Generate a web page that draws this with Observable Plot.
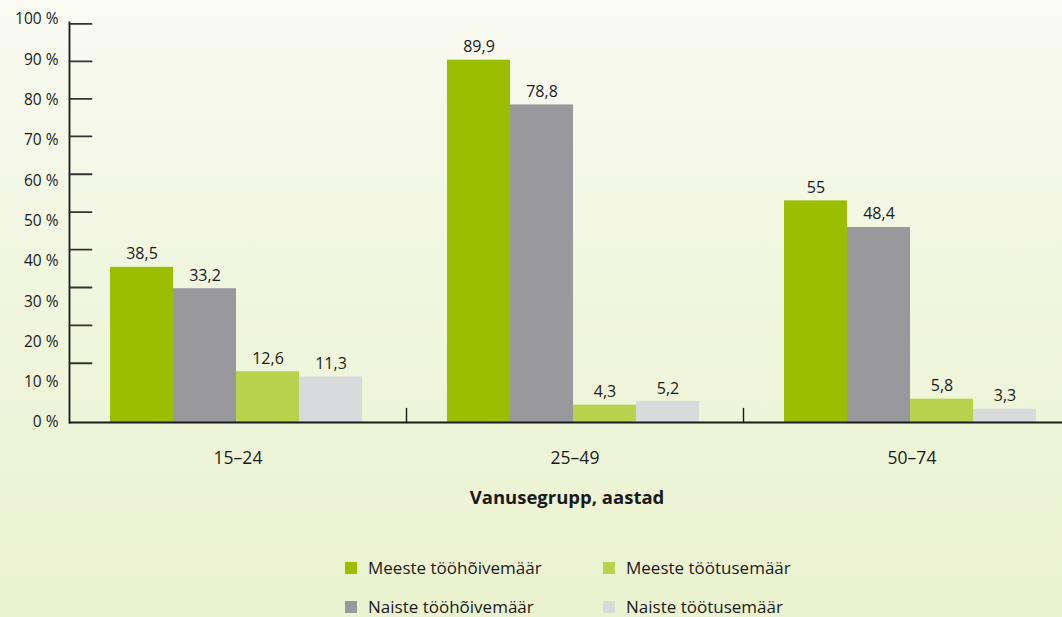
<!DOCTYPE html>
<html><head><meta charset="utf-8">
<script src="https://cdn.jsdelivr.net/npm/d3@7"></script>
<script src="https://cdn.jsdelivr.net/npm/@observablehq/plot@0.6"></script>
<style>
html,body{margin:0;padding:0;}
body{width:1062px;height:617px;overflow:hidden;background:linear-gradient(to bottom,#f9faf2 0%,#f1f6df 45%,#ebf2cf 100%);font-family:"Open Sans",sans-serif;color:#1a1a1a;}
#wrap{position:relative;width:1062px;height:617px;overflow:hidden;}
#chart{position:absolute;left:0;top:0;}
#xtitle{position:absolute;left:317px;width:500px;top:485px;text-align:center;font-weight:bold;font-size:18.5px;line-height:24px;}
#legend{position:absolute;left:345px;top:559px;display:grid;grid-template-columns:258px 258px;row-gap:21px;font-size:17px;line-height:18px;}
#legend .item{display:flex;align-items:center;height:18px;}
#legend .sw{width:12px;height:12px;margin-right:11px;flex:none;}
</style>
</head><body>
<div id="wrap">
<div id="chart"></div>
<div id="xtitle"></div>
<div id="legend"></div>
</div>
<script>
const groups = ["15–24", "25–49", "50–74"];
const series = ["Meeste tööhõivemäär", "Naiste tööhõivemäär", "Meeste töötusemäär", "Naiste töötusemäär"];
const colors = ["#9bbf00", "#99989d", "#b8d24e", "#d8dadb"];
const menEmployment = [38.5, 89.9, 55];
const womenEmployment = [33.2, 78.8, 48.4];
const menUnemployment = [12.6, 4.3, 5.8];
const womenUnemployment = [11.3, 5.2, 3.3];
const yTicks = [0, 10, 20, 30, 40, 50, 60, 70, 80, 90, 100];
// the reference's tick marks do not sit exactly on the labels; levels
const tickMarkLevels = [98.9, 89.6, 80.3, 71.0, 61.6, 52.2, 42.9, 33.5, 24.1, 14.7];
const legendOrder = ["Meeste tööhõivemäär", "Meeste töötusemäär", "Naiste tööhõivemäär", "Naiste töötusemäär"];
const xTitle = "Vanusegrupp, aastad";

const seriesValues = [menEmployment, womenEmployment, menUnemployment, womenUnemployment];
const data = [];
groups.forEach((g, i) => series.forEach((s, k) => data.push({group: g, series: s, value: seriesValues[k][i]})));

const fmt = v => String(v).replace(".", ",");
const line = {draw(context, l) { context.moveTo(0, 0); context.lineTo(0, -l); }};

const chart = Plot.plot({
  width: 1062,
  height: 520,
  marginLeft: 68,
  marginRight: 0,
  marginTop: 19,
  marginBottom: 98,
  style: {fontFamily: "'Open Sans', sans-serif", fontSize: "15.5px", background: "transparent", color: "#1a1a1a", overflow: "visible"},
  fx: {domain: groups, range: [68, 1081], padding: 0, label: null},
  x: {domain: series, axis: null, paddingInner: 0, paddingOuter: 0.66, align: 0.48},
  y: {domain: [0, 100], axis: null},
  color: {domain: series, range: colors},
  marks: [
    Plot.barY(data, {fx: "group", x: "series", y: "value", fill: "series"}),
    Plot.text(data, {fx: "group", x: "series", y: "value", text: d => fmt(d.value), dy: -8, lineAnchor: "bottom", fill: "#1a1a1a", fontSize: 16}),
    Plot.ruleY([0], {stroke: "#1a1a1a", strokeWidth: 1.8}),
    Plot.frame({anchor: "left", facetAnchor: "left", stroke: "#1a1a1a", strokeWidth: 1.8, insetTop: 3}),
    Plot.vector(tickMarkLevels, {y: d => d, frameAnchor: "left", rotate: 90, length: 22, anchor: "start", shape: line, stroke: "#333", strokeWidth: 1.8, facetAnchor: "left"}),
    Plot.axisY(yTicks, {tickSize: 0, tickPadding: 11, tickFormat: d => d + " %", label: null, fontSize: 15.5}),
    Plot.vector(groups.slice(1), {fx: d => d, frameAnchor: "bottom-left", length: 14, anchor: "start", shape: line, stroke: "#1a1a1a", strokeWidth: 1.4}),
    Plot.axisFx({anchor: "bottom", tickSize: 0, tickPadding: 29, label: null, fontSize: 17.5})
  ]
});
document.getElementById("chart").appendChild(chart);
document.getElementById("xtitle").textContent = xTitle;

const legend = document.getElementById("legend");
legendOrder.forEach(s => {
  const it = document.createElement("div");
  it.className = "item";
  const sw = document.createElement("span");
  sw.className = "sw";
  sw.style.background = colors[series.indexOf(s)];
  const t = document.createElement("span");
  t.textContent = s;
  it.appendChild(sw); it.appendChild(t);
  legend.appendChild(it);
});
</script>
</body></html>
